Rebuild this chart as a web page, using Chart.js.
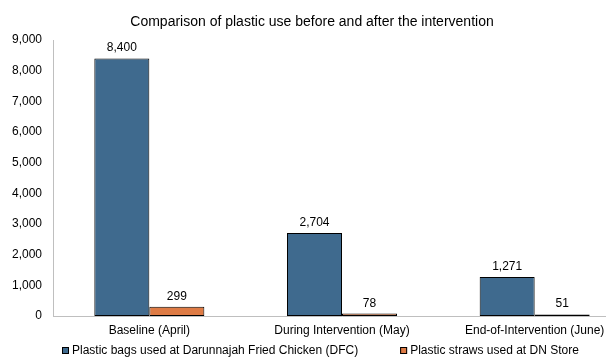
<!DOCTYPE html>
<html>
<head>
<meta charset="utf-8">
<script src="https://cdn.jsdelivr.net/npm/chart.js@4.4.1/dist/chart.umd.min.js"></script>
<style>
  html, body { margin: 0; padding: 0; background: #ffffff; overflow: hidden; }
  #wrap { width: 606px; height: 358px; overflow: hidden; position: relative; }
  #inner { width: 640px; height: 358px; position: absolute; left: 0; top: 0; }
</style>
</head>
<body>
<div id="wrap"><div id="inner"><canvas id="chart" width="640" height="358"></canvas></div></div>
<script>
// Plastic use per period
const periods = ['Baseline (April)', 'During Intervention (May)', 'End-of-Intervention (June)'];
const bagsDFC = [8400, 2704, 1271];
const strawsDN = [299, 78, 51];
const seriesNames = ['Plastic bags used at Darunnajah Fried Chicken (DFC)', 'Plastic straws used at DN Store'];
const seriesColors = ['#3f6a8e', '#de7b45'];
const yTicks = [0, 1000, 2000, 3000, 4000, 5000, 6000, 7000, 8000, 9000];
const chartTitle = 'Comparison of plastic use before and after the intervention';

const FONT = '"Liberation Sans", Arial, sans-serif';
const fmt = v => v.toLocaleString('en-US');

// Writes each bar's value just above it
const valueLabels = {
  id: 'valueLabels',
  afterDatasetsDraw(chart) {
    const ctx = chart.ctx;
    ctx.save();
    ctx.font = '12px ' + FONT;
    ctx.fillStyle = '#000000';
    ctx.textAlign = 'center';
    ctx.textBaseline = 'alphabetic';
    chart.data.datasets.forEach((ds, i) => {
      chart.getDatasetMeta(i).data.forEach((bar, j) => {
        ctx.fillText(fmt(ds.data[j]), bar.x, bar.y - 7);
      });
    });
    ctx.restore();
  }
};

// Title line and the legend row under the axis labels
const frame = {
  id: 'frame',
  afterDraw(chart) {
    const ctx = chart.ctx;
    ctx.save();
    ctx.fillStyle = '#000000';
    ctx.textBaseline = 'alphabetic';
    ctx.font = '14px ' + FONT;
    ctx.textAlign = 'center';
    ctx.fillText(chartTitle, 312, 26);

    ctx.font = '12px ' + FONT;
    ctx.textAlign = 'left';
    let x = 62;
    const y = 351;
    chart.data.datasets.forEach(ds => {
      ctx.fillStyle = ds.backgroundColor;
      ctx.fillRect(x, y - 4, 7, 7);
      ctx.strokeStyle = '#000000';
      ctx.lineWidth = 1;
      ctx.strokeRect(x + 0.5, y - 3.5, 6, 6);
      ctx.fillStyle = '#000000';
      ctx.textBaseline = 'middle';
      ctx.fillText(ds.label, x + 10, y);
      x += 10 + ctx.measureText(ds.label).width + 42;
    });
    ctx.restore();
  }
};

new Chart(document.getElementById('chart'), {
  type: 'bar',
  data: {
    labels: periods,
    datasets: [
      { label: seriesNames[0], data: bagsDFC, backgroundColor: seriesColors[0], borderColor: '#000000', borderWidth: 1, borderSkipped: false },
      { label: seriesNames[1], data: strawsDN, backgroundColor: seriesColors[1], borderColor: '#000000', borderWidth: 1, borderSkipped: false }
    ]
  },
  options: {
    responsive: false,
    maintainAspectRatio: false,
    animation: false,
    layout: { padding: { left: 0, right: 9, top: 40, bottom: 0 } },
    datasets: { bar: { categoryPercentage: 0.571, barPercentage: 1.0 } },
    plugins: {
      title: { display: false },
      legend: { display: false },
      tooltip: { enabled: false }
    },
    scales: {
      x: {
        afterFit: scale => { scale.height = 42; },
        grid: { display: false, drawTicks: false },
        border: { display: true, color: '#bfbfbf' },
        ticks: { color: '#000000', font: { family: FONT, size: 12 }, padding: 7, maxRotation: 0, autoSkip: false }
      },
      y: {
        min: 0,
        max: 9000,
        afterBuildTicks: scale => { scale.ticks = yTicks.map(v => ({ value: v })); },
        afterFit: scale => { scale.width = 53; },
        grid: { display: false, drawTicks: false },
        border: { display: true, color: '#bfbfbf' },
        ticks: { color: '#000000', font: { family: FONT, size: 12 }, padding: 11, callback: v => fmt(v) }
      }
    }
  },
  plugins: [valueLabels, frame]
});
</script>
</body>
</html>
